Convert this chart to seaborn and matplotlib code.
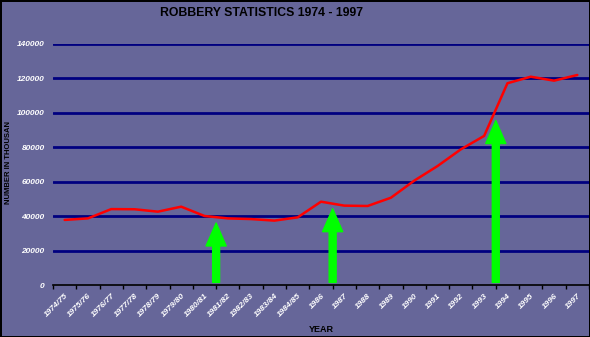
import matplotlib
matplotlib.use("Agg")
import matplotlib.pyplot as plt
import seaborn as sns
import pandas as pd

years = ["1974/75", "1975/76", "1976/77", "1977/78", "1978/79", "1979/80",
         "1980/81", "1981/82", "1982/83", "1983/84", "1984/85", "1986",
         "1987", "1988", "1989", "1990", "1991", "1992", "1993", "1994",
         "1995", "1996", "1997"]
robberies = [37800, 38700, 44100, 44000, 42600, 45500, 40100, 38700, 38300,
             37400, 39300, 48400, 46100, 45900, 50700, 60600, 69100, 78800,
             86600, 117200, 121000, 118700, 122000]
yticks = [0, 20000, 40000, 60000, 80000, 100000, 120000, 140000]
arrow_labels = ["1981/82", "1987", "1994"]
arrow_tips = [36000, 44300, 95500]

BG = "#666699"
sns.set_theme(style="white")
plt.rcParams["font.family"] = ["Liberation Sans", "DejaVu Sans"]

df = pd.DataFrame({"year": years, "robberies": robberies})
df["pos"] = range(len(years))

fig = plt.figure(figsize=(5.9, 3.37), dpi=100, facecolor=BG,
                 edgecolor="black", linewidth=2)
ax = fig.add_axes([53 / 590, 52 / 337, 536 / 590, 241 / 337])
ax.set_facecolor(BG)

for v in yticks[1:]:
    ax.axhline(v, color="#000080", lw=2, zorder=1)

sns.lineplot(data=df, x="pos", y="robberies", color="#FF0000", lw=1.8,
             ax=ax, zorder=3)

for lab, tip in zip(arrow_labels, arrow_tips):
    xpos = years.index(lab) - 0.5
    ax.annotate("", xy=(xpos, tip), xytext=(xpos, 1500),
                arrowprops=dict(color="#00FF00", width=5, headwidth=14.5,
                                headlength=16.5, shrink=0), zorder=4)

ax.set_xlim(-0.5, len(years) - 0.5)
ax.set_ylim(0, 140000)
ax.set_xticks(range(len(years)))
ax.set_xticklabels(years, rotation=45, ha="right", rotation_mode="anchor",
                   color="white", fontsize=6, fontweight="bold", style="italic")
ax.set_xticks([i - 0.5 for i in range(len(years) + 1)], minor=True)
ax.tick_params(axis="x", which="major", length=0, pad=5)
ax.tick_params(axis="x", which="minor", length=3, color="black", width=1,
               bottom=True, direction="out")
ax.set_yticks(yticks)
ax.set_yticklabels([str(v) for v in yticks], color="white", fontsize=6,
                   fontweight="bold", style="italic")
ax.tick_params(axis="y", length=0, pad=6)
ax.set_xlabel("")
ax.set_ylabel("")
for s in ["top", "right", "left"]:
    ax.spines[s].set_visible(False)
ax.spines["bottom"].set_color("black")
ax.spines["bottom"].set_linewidth(1.2)

fig.text(261 / 590, 1 - 13 / 337, "ROBBERY STATISTICS 1974 - 1997",
         ha="center", va="center", fontsize=8.8, fontweight="bold", color="black")
fig.text(321 / 590, 1 - 329 / 337, "YEAR", ha="center", va="center",
         fontsize=6.5, fontweight="bold", color="black")
fig.text(9 / 590, 1 - 163 / 337, "NUMBER IN THOUSAN", ha="center", va="center",
         rotation=90, fontsize=5.5, fontweight="bold", color="black")

fig.savefig("out.png", dpi=100, facecolor=BG, edgecolor=fig.get_edgecolor())
